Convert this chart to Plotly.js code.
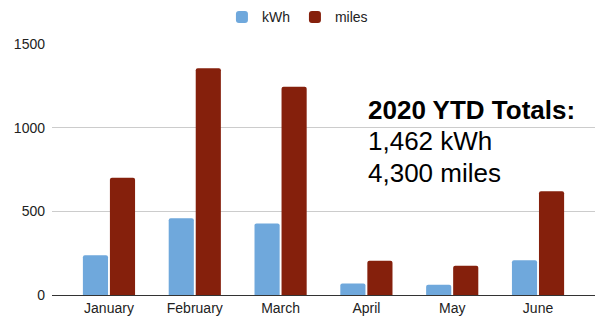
<!DOCTYPE html>
<html>
<head>
<meta charset="utf-8">
<script src="https://cdn.plot.ly/plotly-3.0.1.min.js"></script>
<style>html,body{margin:0;padding:0;background:#fff;}#chart{width:595px;height:326px;}</style>
</head>
<body>
<div id="chart"></div>
<script>
const months = ["January", "February", "March", "April", "May", "June"];
const kwh = [238, 458, 428, 68, 62, 208];
const miles = [700, 1355, 1245, 205, 175, 620];
const yTicks = [0, 500, 1000, 1500];
const totalsTitle = "2020 YTD Totals:";
const totalsLines = ["1,462 kWh", "4,300 miles"];

const traces = [
  {type: "bar", name: "kWh", x: months, y: kwh, marker: {color: "#6fa8dc", cornerradius: 2}, hoverinfo: "skip"},
  {type: "bar", name: "miles", x: months, y: miles, marker: {color: "#85200c", cornerradius: 2}, hoverinfo: "skip"}
];

const layout = {
  width: 595, height: 326,
  margin: {l: 52, r: 0, t: 44, b: 31, pad: 0},
  paper_bgcolor: "#fff", plot_bgcolor: "#fff",
  font: {family: "Liberation Sans, Arial, sans-serif", size: 14, color: "#222"},
  barmode: "group", bargap: 0.37, bargroupgap: 0.07,
  xaxis: {type: "category", range: [-0.664, 5.664], showline: true, linecolor: "#333", linewidth: 1,
          showgrid: false, ticks: "", tickfont: {size: 14, color: "#222"}, fixedrange: true},
  yaxis: {range: [0, 1500], tickvals: yTicks, ticktext: yTicks.map(String), showgrid: true, gridcolor: "#cccccc",
          gridwidth: 1, zeroline: false, showline: false, ticks: "", tickfont: {size: 14, color: "#222"},
          ticklabelstandoff: 6, fixedrange: true},
  legend: {orientation: "h", x: 0.452, xanchor: "center", y: 1.17, yanchor: "top",
           font: {size: 14, color: "#222"}, itemwidth: 30, traceorder: "normal"},
  annotations: [
    {xref: "paper", yref: "paper", x: (367 - 52) / 543, y: (295 - 127) / 250, xanchor: "left", yanchor: "bottom",
     text: "<b>" + totalsTitle + "</b>", showarrow: false, font: {size: 26, color: "#000"}, borderpad: 0},
    {xref: "paper", yref: "paper", x: (367 - 52) / 543, y: (295 - 158) / 250, xanchor: "left", yanchor: "bottom",
     text: totalsLines[0], showarrow: false, font: {size: 26, color: "#000"}, borderpad: 0},
    {xref: "paper", yref: "paper", x: (367 - 52) / 543, y: (295 - 189) / 250, xanchor: "left", yanchor: "bottom",
     text: totalsLines[1], showarrow: false, font: {size: 26, color: "#000"}, borderpad: 0}
  ]
};

Plotly.newPlot("chart", traces, layout, {displayModeBar: false, staticPlot: true});
</script>
</body>
</html>
